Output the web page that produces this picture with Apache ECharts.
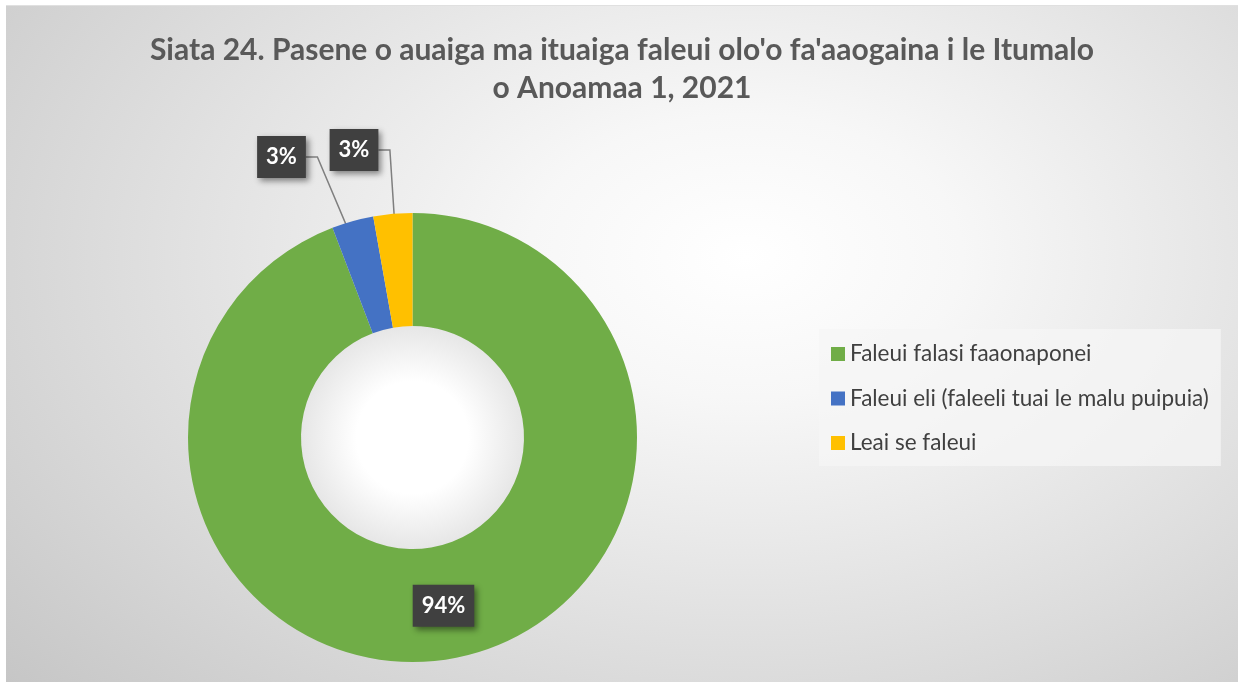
<!DOCTYPE html>
<html>
<head>
<meta charset="utf-8">
<script src="https://cdn.jsdelivr.net/npm/echarts@6/dist/echarts.min.js"></script>
<style>
  html, body { margin: 0; padding: 0; background: #fff; }
  #chart {
    position: absolute; left: 6px; top: 5px; width: 1232px; height: 677px;
    background:
      radial-gradient(circle 112px at 406.5px 431.5px, #ffffff 0%, #ffffff 50%, #e6e6e6 100%, rgba(255,255,255,0) 100%),
      radial-gradient(ellipse 80% 95% at 60% 37%, #ffffff 0%, #f7f7f7 22%, #c6c6c6 100%);
    border-top: 1px solid #e0e0e0;
  }
</style>
</head>
<body>
<div id="chart"></div>
<script>
const titleText = "Siata 24. Pasene o auaiga ma ituaiga faleui olo'o fa'aaogaina i le Itumalo\no Anoamaa 1, 2021";
const categories = ['Faleui falasi faaonaponei', 'Faleui eli (faleeli tuai le malu puipuia)', 'Leai se faleui'];
const values = [94.2, 3.0, 2.8];
const colors = ['#70ad47', '#4472c4', '#ffc000'];

// pie geometry (px inside the chart div)
const cx = 406.5, cy = 431.5, rIn = 111.5, rOut = 224.5;
// where the small-slice labels sit (label centre)
const labelPos = { 1: [275.5, 151], 2: [348, 144] };

const total = values.reduce((a, b) => a + b, 0);
function midPoint(i) {
  let start = 0;
  for (let k = 0; k < i; k++) start += values[k];
  const a = (start + values[i] / 2) / total * Math.PI * 2;
  const r = (rIn + rOut) / 2;
  return [cx + r * Math.sin(a), cy - r * Math.cos(a)];
}

const chart = echarts.init(document.getElementById('chart'));
chart.setOption({
  backgroundColor: 'transparent',
  title: {
    text: titleText,
    left: 'center',
    top: 20,
    textStyle: {
      fontFamily: 'Lato',
      fontWeight: 'bold',
      fontSize: 30,
      lineHeight: 38,
      color: '#595959'
    }
  },
  legend: {
    orient: 'vertical',
    left: 813,
    top: 323,
    icon: 'rect',
    itemWidth: 14,
    itemHeight: 14,
    itemGap: 20.5,
    padding: [13, 12, 11, 12],
    backgroundColor: 'rgba(246,246,246,0.75)',
    textStyle: { fontFamily: 'Lato', fontSize: 22.5, lineHeight: 24, color: '#404040' },
    data: categories
  },
  series: [{
    type: 'pie',
    center: [cx, cy],
    radius: [rIn, rOut],
    startAngle: 90,
    clockwise: true,
    avoidLabelOverlap: false,
    emphasis: { disabled: true },
    label: {
      show: true,
      position: 'inside',
      formatter: p => Math.round(p.percent) + '%',
      fontFamily: 'Lato',
      fontWeight: 'bold',
      fontSize: 22,
      lineHeight: 24,
      color: '#ffffff',
      backgroundColor: '#404040',
      padding: [9, 9],
      shadowColor: 'rgba(0,0,0,0.45)',
      shadowBlur: 6,
      shadowOffsetX: 3,
      shadowOffsetY: 3
    },
    labelLine: {
      show: true,
      lineStyle: { color: '#7f7f7f', width: 1.5 }
    },
    labelLayout: function (params) {
      const pos = labelPos[params.dataIndex];
      if (!pos) return {};
      const w = params.labelRect.width;
      const right = pos[0] + w / 2;
      return {
        x: pos[0],
        y: pos[1],
        align: 'center',
        verticalAlign: 'middle',
        labelLinePoints: [midPoint(params.dataIndex), [right + 11.5, pos[1]], [right, pos[1]]]
      };
    },
    data: categories.map((name, i) => ({
      name: name,
      value: values[i],
      itemStyle: { color: colors[i] },
      label: i === 0 ? { position: 'inside' } : { position: 'outside' },
      labelLine: { show: i !== 0 }
    }))
  }]
});
</script>
</body>
</html>
